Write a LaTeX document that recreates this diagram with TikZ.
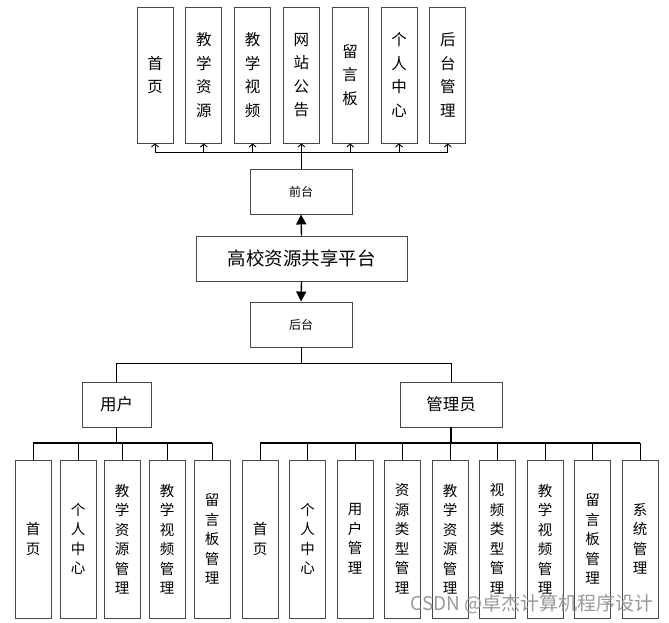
\documentclass[tikz,border=0pt]{standalone}
\usepackage{fontspec}
\newfontfamily\cjk{Noto Sans CJK SC}
\usetikzlibrary{arrows.meta}
\begin{document}
\begin{tikzpicture}[x=1pt,y=-1pt,
  box/.style={draw=black!72, line width=0.9pt, fill=white, inner sep=0pt, align=center},
  topbox/.style={box, minimum width=36pt, minimum height=136pt, font=\cjk\fontsize{15.5}{23.5}\selectfont},
  botbox/.style={box, minimum width=36pt, minimum height=158pt, font=\cjk\fontsize{14.5}{19.5}\selectfont},
  midbox/.style={box, minimum width=102pt, minimum height=45pt, font=\cjk\fontsize{12}{14}\selectfont},
  rolebox/.style={box, minimum height=45pt, font=\cjk\fontsize{16.5}{18}\selectfont},
  conn/.style={line width=0.9pt, black},
  trunk/.style={line width=1.4pt, black},
  upbarb/.style={conn, -{Straight Barb[length=3pt,width=7pt]}},
  bigtip/.style={trunk, -{Triangle[length=10pt,width=10pt]}}]
\useasboundingbox (0,0) rectangle (669,623);
% top row
\node[topbox] (t1) at (155,75) {首\\页};
\node[topbox] (t2) at (203.8,75) {教\\学\\资\\源};
\node[topbox] (t3) at (252.6,75) {教\\学\\视\\频};
\node[topbox] (t4) at (301.4,75) {网\\站\\公\\告};
\node[topbox] (t5) at (350.2,75) {留\\言\\板};
\node[topbox] (t6) at (399,75) {个\\人\\中\\心};
\node[topbox] (t7) at (447.8,75) {后\\台\\管\\理};
% middle
\node[midbox] (qt) at (301,191.5) {前台};
\node[box, minimum width=211pt, minimum height=45pt, font=\cjk\fontsize{18.5}{20}\selectfont] (pf) at (301.5,258.5) {高校资源共享平台};
\node[midbox] (ht) at (301,324.5) {后台};
\node[rolebox, minimum width=69pt] (yh) at (116.5,404.5) {用户};
\node[rolebox, minimum width=102pt] (gl) at (451,404.5) {管理员};
% user children
\node[botbox] (u1) at (33,539) {首\\页};
\node[botbox] (u2) at (78,539) {个\\人\\中\\心};
\node[botbox] (u3) at (122,539) {教\\学\\资\\源\\管\\理};
\node[botbox] (u4) at (167,539) {教\\学\\视\\频\\管\\理};
\node[botbox] (u5) at (212,539) {留\\言\\板\\管\\理};
% admin children
\node[botbox] (a1) at (260,539) {首\\页};
\node[botbox] (a2) at (307.5,539) {个\\人\\中\\心};
\node[botbox] (a3) at (355,539) {用\\户\\管\\理};
\node[botbox] (a4) at (402,539) {资\\源\\类\\型\\管\\理};
\node[botbox] (a5) at (450,539) {教\\学\\资\\源\\管\\理};
\node[botbox] (a6) at (497,539) {视\\频\\类\\型\\管\\理};
\node[botbox] (a7) at (545,539) {教\\学\\视\\频\\管\\理};
\node[botbox] (a8) at (592.5,539) {留\\言\\板\\管\\理};
\node[botbox] (a9) at (640,539) {系\\统\\管\\理};
% connectors
\coordinate (tb) at (301,152);
\draw[conn] (qt.north) -- (tb);
\draw[conn] (t1.south |- tb) -- (t7.south |- tb);
\foreach \n in {t1,t2,t3,t4,t5,t6,t7} \draw[upbarb] (\n.south |- tb) -- (\n.south);
\draw[bigtip] (pf.north) -- (qt.south);
\draw[bigtip] (pf.south) -- (ht.north);
\coordinate (bb) at (301,363);
\draw[conn] (ht.south) -- (bb);
\draw[conn] (yh.north |- bb) -- (gl.north |- bb);
\draw[conn] (yh.north |- bb) -- (yh.north);
\draw[conn] (gl.north |- bb) -- (gl.north);
\coordinate (ub) at (116.5,443);
\draw[trunk] (yh.south) -- (ub);
\draw[trunk] (u1.north |- ub) -- (u5.north |- ub);
\foreach \n in {u1,u2,u3,u4,u5} \draw[conn] (\n.north |- ub) -- (\n.north);
\coordinate (ab) at (451,443);
\draw[trunk] (gl.south) -- (ab);
\draw[trunk] (a1.north |- ab) -- (a9.north |- ab);
\foreach \n in {a1,a2,a3,a4,a5,a6,a7,a8,a9} \draw[conn] (\n.north |- ab) -- (\n.north);
% watermark
\node[anchor=east, text=black!40, inner sep=0pt, font=\cjk\fontsize{19}{19}\selectfont] (wm) at (654,604) {CSDN @卓杰计算机程序设计};
\end{tikzpicture}
\end{document}
